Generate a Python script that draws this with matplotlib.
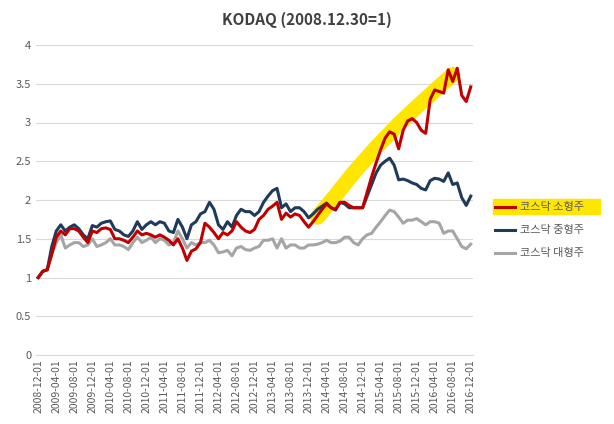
import matplotlib
matplotlib.use("Agg")
import matplotlib.pyplot as plt
import numpy as np
import pandas as pd
from matplotlib.patches import Rectangle

plt.rcParams['font.family'] = ['Noto Sans CJK KR', 'DejaVu Sans']

dates = pd.date_range("2008-12-01", "2016-12-01", freq="MS")
small = [1.0,1.08,1.1,1.3,1.52,1.6,1.55,1.63,1.63,1.6,1.52,1.45,1.6,1.58,1.63,1.64,1.62,1.5,1.5,1.48,
         1.45,1.52,1.6,1.55,1.57,1.55,1.52,1.55,1.52,1.48,1.42,1.5,1.38,1.22,1.34,1.37,1.45,1.7,1.65,1.58,
         1.5,1.58,1.55,1.6,1.72,1.65,1.6,1.58,1.62,1.75,1.8,1.88,1.92,1.97,1.75,1.83,1.78,1.82,1.8,1.72,
         1.65,1.72,1.8,1.88,1.95,1.9,1.88,1.97,1.97,1.93,1.9,1.9,
         1.9,2.1,2.3,2.48,2.65,2.8,2.88,2.85,2.66,2.9,3.02,3.05,3.0,2.9,2.86,3.3,3.42,3.4,3.38,3.68,3.53,3.70,3.35,3.27,3.46]
mid = [1.0,1.08,1.1,1.4,1.6,1.68,1.6,1.65,1.68,1.63,1.55,1.5,1.67,1.65,1.7,1.72,1.73,1.62,1.6,1.55,
       1.53,1.6,1.72,1.62,1.68,1.72,1.68,1.72,1.7,1.6,1.58,1.75,1.65,1.5,1.68,1.72,1.82,1.85,1.97,1.88,
       1.68,1.62,1.72,1.65,1.8,1.88,1.85,1.85,1.8,1.85,1.97,2.05,2.12,2.15,1.9,1.95,1.85,1.9,1.9,1.85,
       1.77,1.82,1.88,1.92,1.96,1.9,1.87,1.97,1.95,1.9,1.9,1.9,
       1.9,2.05,2.2,2.35,2.45,2.5,2.54,2.45,2.26,2.27,2.25,2.22,2.2,2.15,2.13,2.25,2.28,2.27,2.24,2.35,2.2,2.22,2.03,1.93,2.05]
large = [1.0,1.08,1.1,1.3,1.45,1.55,1.38,1.42,1.45,1.45,1.4,1.42,1.5,1.4,1.42,1.45,1.5,1.42,1.42,1.4,
         1.36,1.45,1.52,1.45,1.48,1.52,1.45,1.5,1.48,1.42,1.45,1.6,1.5,1.38,1.45,1.42,1.45,1.45,1.48,1.42,
         1.32,1.33,1.35,1.28,1.38,1.4,1.36,1.35,1.38,1.4,1.48,1.48,1.5,1.38,1.5,1.38,1.42,1.42,1.38,1.38,
         1.42,1.42,1.43,1.45,1.48,1.45,1.45,1.47,1.52,1.52,1.45,1.42,
         1.5,1.55,1.57,1.65,1.72,1.8,1.87,1.85,1.78,1.7,1.74,1.74,1.76,1.72,1.68,1.72,1.72,1.7,1.57,1.6,1.6,1.5,1.4,1.37,1.43]
# highlight band control points (month index, value)
band_m = [62, 66, 70, 75, 80, 84, 88, 92]
band_v = [1.78, 2.06, 2.35, 2.68, 2.98, 3.2, 3.41, 3.62]

fig = plt.figure(figsize=(6.14, 4.24), dpi=100)
ax = fig.add_axes([36/614, 69/424, 437/614, 310/424])
x = np.arange(len(dates))
ax.plot(band_m, band_v, color='#FFE600', lw=11, solid_capstyle='round', zorder=1)
ax.plot(x, large, color='#A5A5A5', lw=2.2, zorder=2)
ax.plot(x, mid, color='#1F3B5C', lw=2.2, zorder=3)
ax.plot(x, small, color='#C00000', lw=2.2, zorder=4)

ax.set_ylim(0, 4)
ax.set_xlim(-0.5, 96.5)
ax.set_yticks(np.arange(0, 4.01, 0.5))
ax.set_yticklabels(['0','0.5','1','1.5','2','2.5','3','3.5','4'], fontsize=8, color='#595959')
tick_idx = list(range(0, 97, 4))
ax.set_xticks(tick_idx)
ax.set_xticklabels([dates[i].strftime('%Y-%m-%d') for i in tick_idx], rotation=90, fontsize=7.5, color='#595959')
ax.grid(axis='y', color='#D9D9D9', lw=0.8)
ax.set_axisbelow(True)
for s in ['top', 'right', 'left']:
    ax.spines[s].set_visible(False)
ax.spines['bottom'].set_color('#D9D9D9')
ax.tick_params(length=0)
fig.text(0.5, 0.953, 'KODAQ (2008.12.30=1)', ha='center', va='center', fontsize=11, fontweight='bold', color='#404040')

fig.patches.append(Rectangle((493/614, 1-214/424), 107/614, 15/424, transform=fig.transFigure, color='#FFE600', zorder=0))
labels = ['코스닥 소형주', '코스닥 중형주', '코스닥 대형주']
colors = ['#C00000', '#1F3B5C', '#A5A5A5']
for i, (lab, c) in enumerate(zip(labels, colors)):
    yy = 1 - (207 + 23*i)/424
    fig.add_artist(plt.Line2D([495/614, 515/614], [yy, yy], color=c, lw=2.2, transform=fig.transFigure))
    fig.text(520/614, yy, lab, va='center', fontsize=8, color='#595959')

fig.savefig('out.png', dpi=100)
